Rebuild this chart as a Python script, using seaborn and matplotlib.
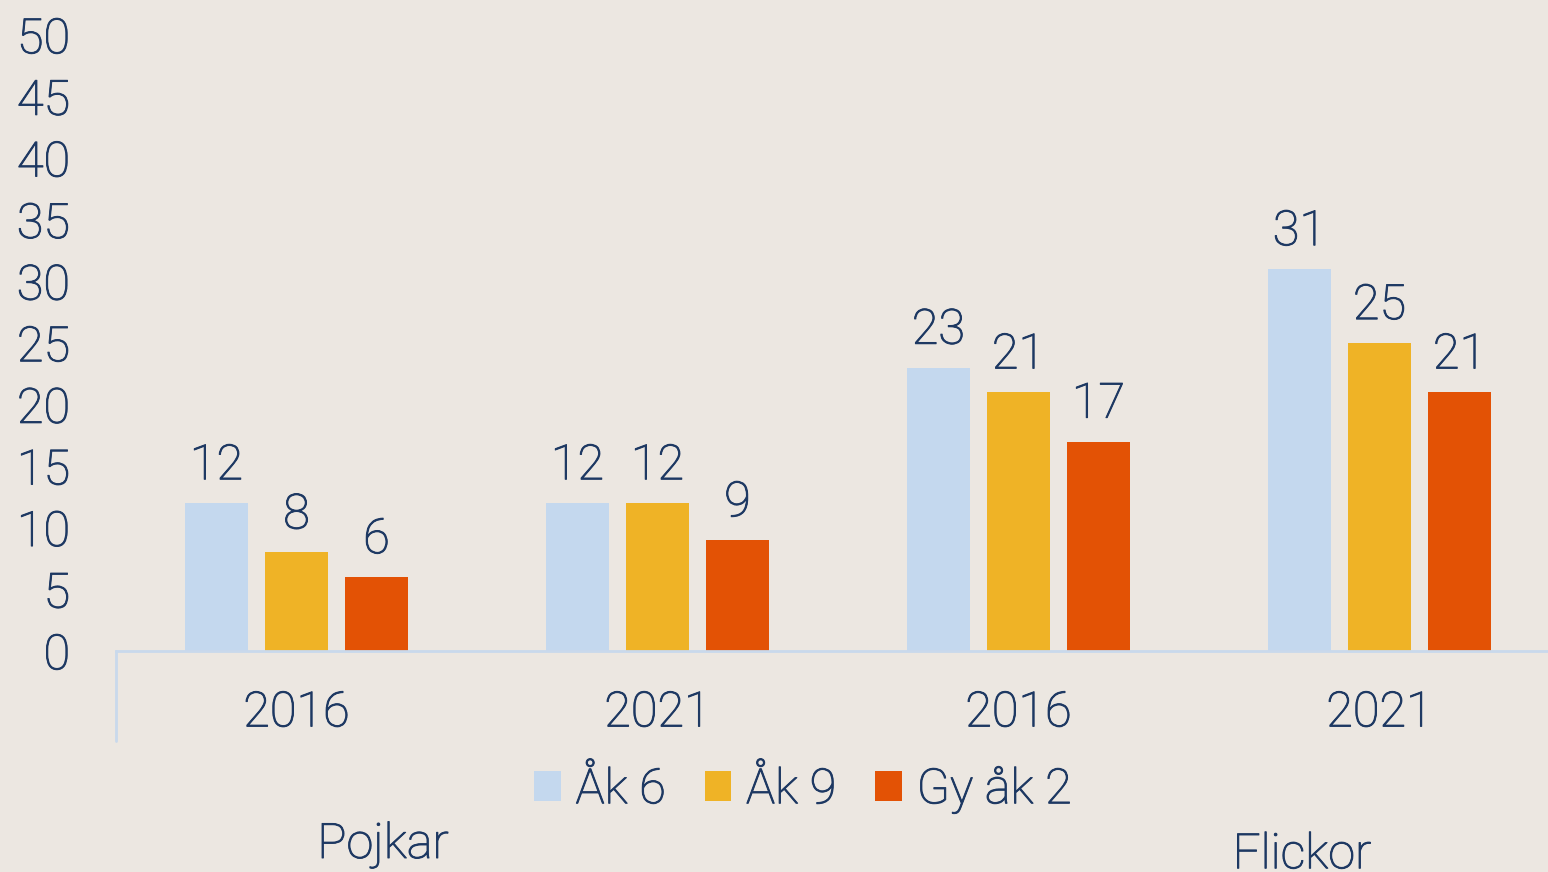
import matplotlib
matplotlib.use("Agg")
import matplotlib.pyplot as plt
import matplotlib.patches as mpatches
import matplotlib.patheffects as pe
import seaborn as sns
import pandas as pd

# Data
groups = ["Pojkar", "Pojkar", "Flickor", "Flickor"]
years = ["2016", "2021", "2016", "2021"]
grades = ["Åk 6", "Åk 9", "Gy åk 2"]
ak6 = [12, 12, 23, 31]
ak9 = [8, 12, 21, 25]
gy2 = [6, 9, 17, 21]
yticks = [0, 5, 10, 15, 20, 25, 30, 35, 40, 45, 50]

colors = ["#c4d8ee", "#efb326", "#e35205"]
bg = "#ece7e1"
txt = "#1d3862"
axis_col = "#c9d9ec"

cats = [f"{g} {y}" for g, y in zip(groups, years)]
rows = []
for grade, vals in zip(grades, [ak6, ak9, gy2]):
    for c, v in zip(cats, vals):
        rows.append({"cat": c, "grade": grade, "value": v})
df = pd.DataFrame(rows)

sns.set_theme(style="white")
plt.rcParams["font.family"] = ["Roboto", "DejaVu Sans"]
W = "light"
PE = [pe.withStroke(linewidth=0.7, foreground=txt)]

fig = plt.figure(figsize=(15.48, 8.72), dpi=100, facecolor=bg)
ax = fig.add_axes([116 / 1548, 221 / 872, 1444 / 1548, 616 / 872])
ax.set_facecolor(bg)

sns.barplot(data=df, x="cat", y="value", hue="grade", order=cats, hue_order=grades,
            palette=colors, saturation=1, width=0.665, gap=0.2125, ax=ax, legend=False,
            linewidth=0, edgecolor="none")

fs = 35
for cont in ax.containers:
    labs = ax.bar_label(cont, fmt="%g", padding=10, fontsize=fs, color=txt, fontweight=W)
    for t in labs:
        t.set_path_effects(PE)

ax.set_ylim(0, 50)
ax.set_xlim(-0.5, 3.5)
ax.set_yticks(yticks)
ax.set_yticklabels([str(t) for t in yticks], fontsize=fs, color=txt, fontweight=W)
ax.set_xticks(range(4))
ax.set_xticklabels(years, fontsize=fs, color=txt, fontweight=W)
ax.tick_params(axis="y", length=0, pad=33)
ax.tick_params(axis="x", length=0, pad=28)
for t in ax.get_xticklabels() + ax.get_yticklabels():
    t.set_path_effects(PE)
ax.set_xlabel("")
ax.set_ylabel("")
for s in ["top", "right", "left"]:
    ax.spines[s].set_visible(False)
ax.spines["bottom"].set_color(axis_col)
ax.spines["bottom"].set_linewidth(2)

# left category divider extending below axis
ax.plot([0, 0], [0, -90 / 616], transform=ax.transAxes, color=axis_col, lw=2, clip_on=False)

# legend
handles = [mpatches.Patch(facecolor=c, edgecolor="none", label=g) for c, g in zip(colors, grades)]
leg = fig.legend(handles=handles, loc="center", bbox_to_anchor=(803 / 1548, 1 - 790 / 872),
                 ncol=3, frameon=False, handlelength=0.55, handleheight=0.55,
                 handletextpad=0.3, columnspacing=0.8,
                 prop={"family": ["Roboto", "DejaVu Sans"], "weight": W, "size": fs})
for t in leg.get_texts():
    t.set_color(txt)
    t.set_path_effects(PE)

# group labels
for label, x, y in [("Pojkar", 383, 845), ("Flickor", 1302, 855)]:
    fig.text(x / 1548, 1 - y / 872, label, ha="center", va="center", fontsize=fs,
             color=txt, fontweight=W, path_effects=PE)

fig.savefig("out.png", dpi=100, facecolor=bg)
